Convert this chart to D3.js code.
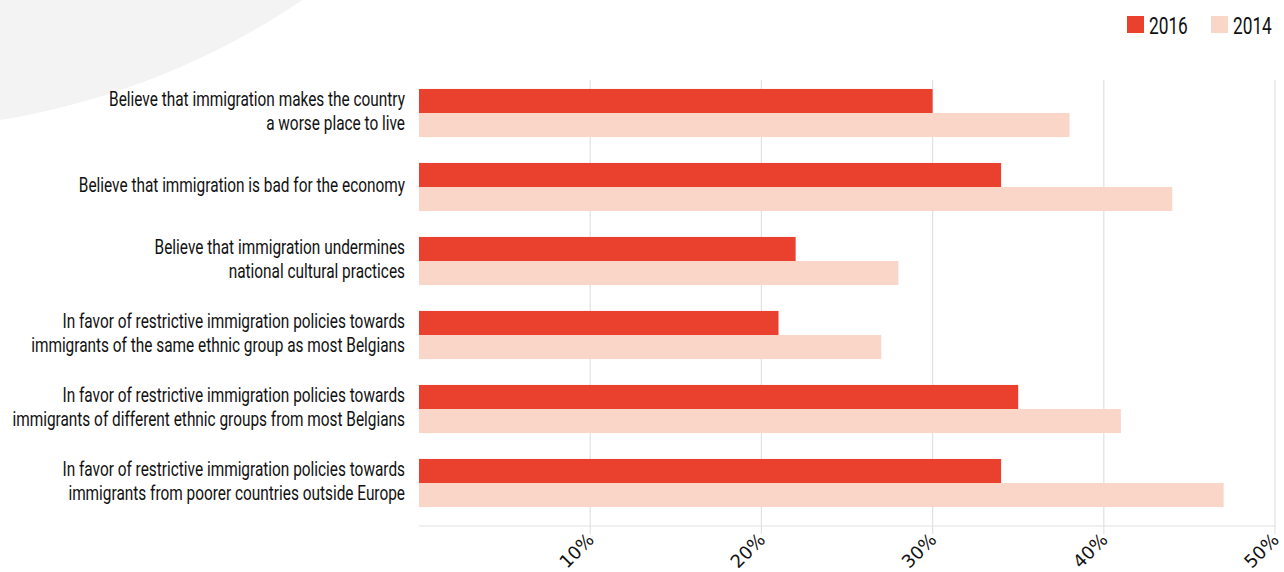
<!DOCTYPE html>
<html>
<head>
<meta charset="utf-8">
<script src="https://cdn.jsdelivr.net/npm/d3@7"></script>
<style>
  html, body { margin: 0; padding: 0; background: #ffffff; }
  svg { display: block; }
  .lbl { font-family: Roboto, "Liberation Sans", sans-serif; fill: #111; }
  .tick-lbl { font-family: "DejaVu Sans", Verdana, sans-serif; fill: #111; }
</style>
</head>
<body>
<div id="chart"></div>
<script>
// ---- data ----
const categories = [
  ["Believe that immigration makes the country", "a worse place to live"],
  ["Believe that immigration is bad for the economy"],
  ["Believe that immigration undermines", "national cultural practices"],
  ["In favor of restrictive immigration policies towards", "immigrants of the same ethnic group as most Belgians"],
  ["In favor of restrictive immigration policies towards", "immigrants of different ethnic groups from most Belgians"],
  ["In favor of restrictive immigration policies towards", "immigrants from poorer countries outside Europe"]
];
const seriesNames = ["2016", "2014"];
const values2016 = [30, 34, 22, 21, 35, 34];
const values2014 = [38, 44, 28, 27, 41, 47];
const tickValues = [10, 20, 30, 40, 50];
const tickLabels = ["10%", "20%", "30%", "40%", "50%"];

// ---- layout ----
const W = 1284, H = 572;
const colors = { "2016": "#e9412d", "2014": "#fad6c8" };

const svg = d3.select("#chart").append("svg")
  .attr("width", W).attr("height", H);

// background arc
svg.append("circle")
  .attr("cx", -122).attr("cy", -628).attr("r", 758)
  .attr("fill", "#f3f3f3");

const x = d3.scaleLinear().domain([0, 50]).range([419, 1275]);
const y = d3.scaleBand().domain(d3.range(categories.length))
  .range([76, 520]).paddingInner(0.35).paddingOuter(0.175);
const ySub = d3.scaleBand().domain(seriesNames).range([0, y.bandwidth()]);

// grid lines
svg.append("g").selectAll("line").data(tickValues).join("line")
  .attr("x1", d => x(d)).attr("x2", d => x(d))
  .attr("y1", 80).attr("y2", 534)
  .attr("stroke", "#e2e2e2").attr("stroke-width", 1.2);

// axis baseline
svg.append("line")
  .attr("x1", x(0)).attr("x2", x(50))
  .attr("y1", 526).attr("y2", 526)
  .attr("stroke", "#e2e2e2").attr("stroke-width", 1.2);

// bars
const rows = categories.map((c, i) => ({ i, vals: [
  { s: "2016", v: values2016[i] },
  { s: "2014", v: values2014[i] }
]}));

const g = svg.append("g").selectAll("g").data(rows).join("g")
  .attr("transform", d => `translate(0,${y(d.i)})`);

g.selectAll("rect").data(d => d.vals).join("rect")
  .attr("x", x(0))
  .attr("y", d => ySub(d.s))
  .attr("width", d => x(d.v) - x(0))
  .attr("height", ySub.bandwidth())
  .attr("fill", d => colors[d.s]);

// category labels (condensed by horizontal scaling)
const lineH = 23.5;
const labelRight = 405;
const labelG = svg.append("g");
const labelInner = labelG.append("g");
labelInner.selectAll("text").data(categories).join("text")
  .attr("class", "lbl")
  .attr("text-anchor", "end")
  .attr("font-size", 20.5)
  .each(function(lines, i) {
    const c = y(i) + y.bandwidth() / 2 - 2;
    const blockH = 14.5 + lineH * (lines.length - 1);
    const first = c - blockH / 2 + 14.5;
    d3.select(this).selectAll("tspan").data(lines).join("tspan")
      .attr("x", 0)
      .attr("y", (d, k) => first + k * lineH)
      .text(d => d);
  });
// measure widest line and squeeze to the reference width
let maxW = 0;
labelInner.selectAll("tspan").each(function() {
  maxW = Math.max(maxW, this.getComputedTextLength());
});
const sx = maxW > 0 ? 393 / maxW : 1;
labelG.attr("transform", `translate(${labelRight},0) scale(${sx},1)`);

// x axis tick labels (rotated)
svg.append("g").selectAll("text").data(tickValues).join("text")
  .attr("class", "tick-lbl")
  .attr("font-size", 18)
  .attr("text-anchor", "end")
  .attr("transform", d => `translate(${x(d) + 5},${541}) rotate(-45)`)
  .text((d, i) => tickLabels[i]);

// legend
const legend = svg.append("g");
const legX = [1127, 1211];
seriesNames.forEach((s, i) => {
  legend.append("rect")
    .attr("x", legX[i]).attr("y", 16).attr("width", 17).attr("height", 17)
    .attr("fill", colors[s]);
  legend.append("text")
    .attr("class", "lbl")
    .attr("transform", `translate(${legX[i] + 22},34) scale(${sx},1)`)
    .attr("font-size", 23)
    .text(s);
});
</script>
</body>
</html>
